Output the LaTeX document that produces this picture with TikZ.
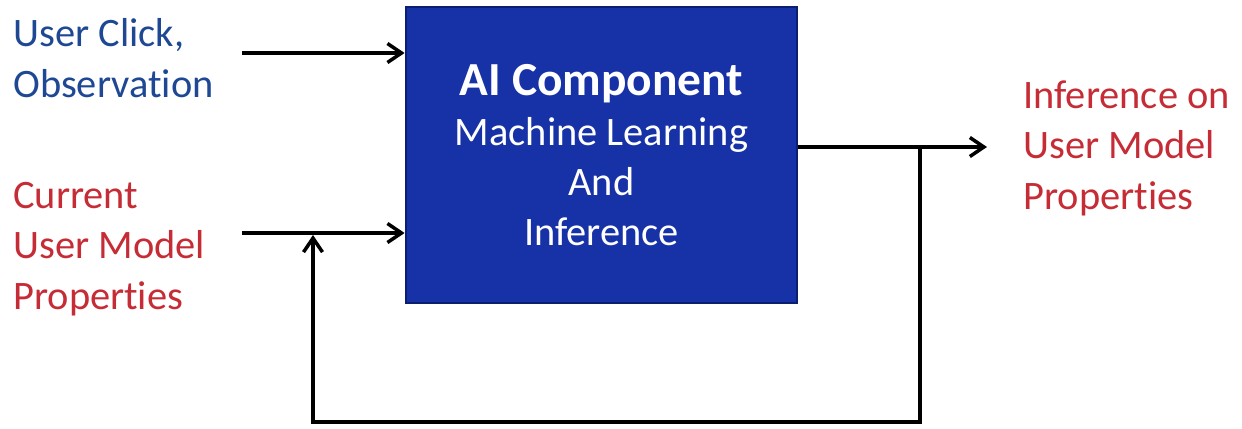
\documentclass[tikz,border=0pt]{standalone}
\usepackage{fontspec}
\setmainfont{Carlito}[Ligatures=NoCommon]
\usetikzlibrary{arrows.meta,positioning}
\definecolor{aiblue}{RGB}{22,50,166}
\definecolor{aiedge}{RGB}{12,30,112}
\definecolor{inblue}{RGB}{30,72,148}
\definecolor{propred}{RGB}{198,44,54}
\tikzset{
  aibox/.style={
    draw=aiedge,
    fill=aiblue,
    line width=1.6pt,
    minimum width=7.82cm,
    minimum height=5.92cm,
    inner sep=0pt,
    align=center,
    text=white,
    font=\fontsize{23}{28.5}\selectfont
  },
  side/.style={anchor=base west,inner sep=0pt,align=left,
               font=\fontsize{23}{28.5}\selectfont},
  flow/.style={-{Straight Barb[length=2.8mm,width=3.8mm]},line width=2pt},
}

\begin{document}
\begin{tikzpicture}
  \useasboundingbox (0,0) rectangle (24.84,8.56);

  % Central component.
  \node[aibox] (ai) at (12.03,5.46)
    {{\fontsize{27}{30}\selectfont\bfseries AI Component}\\Machine Learning\\And\\Inference};

  % Inputs on the left, output on the right (anchored on last baseline).
  \node[side,text=inblue] (click) at (0.26,6.62) {User Click,\\Observation};
  \node[side,text=propred] (current) at (0.26,2.38) {Current\\User Model\\Properties};
  \node[side,text=propred] (infer) at (20.46,4.38) {Inference on\\User Model\\Properties};

  \coordinate (clickin) at (4.84,7.50);
  \coordinate (currentin) at (4.84,3.90);
  \coordinate (outtip) at (19.74,5.62);
  \draw[flow] (clickin) -- (clickin -| ai.west);
  \draw[flow] (currentin) -- (currentin -| ai.west);
  \draw[flow] (outtip -| ai.east) -- (outtip);

  % Feedback loop back to the model input.
  \coordinate (fbturn) at (18.40,0.12);
  \coordinate (fbjoin) at (6.26,3.86);
  \draw[flow] (fbturn |- outtip) -- (fbturn) -| (fbjoin);
\end{tikzpicture}
\end{document}
